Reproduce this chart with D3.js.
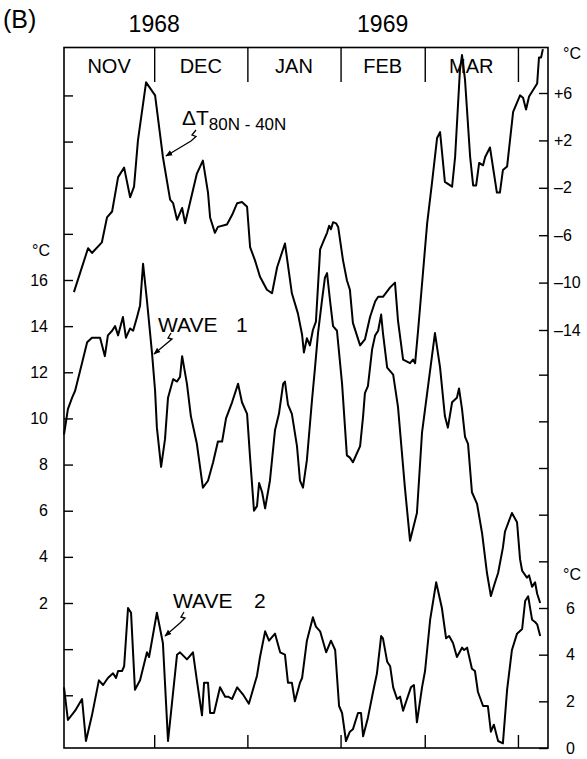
<!DOCTYPE html>
<html>
<head>
<meta charset="utf-8">
<script src="https://cdn.jsdelivr.net/npm/d3@7"></script>
<style>
  body { margin: 0; background: #fff; }
  text { font-family: "Liberation Sans", Arial, sans-serif; fill: #000; }
</style>
</head>
<body>
<svg id="chart" width="587" height="759"></svg>
<script>
// days are counted from 1 Nov 1968
var monthNames = ["NOV", "DEC", "JAN", "FEB", "MAR"];
var yearNames = ["1968", "1969"];
var yearDays = [30, 106];

var dtDays = [3.3, 8.0, 9.3, 12.6, 14.3, 16.0, 18.0, 20.0, 22.0, 23.3, 24.6, 27.3, 30.3, 32.9, 35.3, 36.3, 37.6, 39.3, 40.3, 44.2,
  46.2, 47.9, 48.6, 50.2, 51.2, 54.2, 55.9, 57.6, 59.2, 60.9, 61.9, 63.5, 65.2, 67.5, 69.2, 70.9, 73.5, 75.8, 77.8, 79.2,
  79.8, 80.8, 81.8, 82.8, 83.8, 85.2, 86.5, 87.5, 88.2, 88.8, 89.5, 90.5, 91.2, 92.8, 94.1, 95.1, 96.1, 98.5, 100.1, 101.8,
  103.5, 104.5, 106.1, 108.5, 110.1, 111.1, 112.8, 115.1, 116.1, 116.8, 117.8, 120.8, 122.4, 124.1, 125.1, 126.7, 129.1, 130.1, 131.7, 132.4,
  133.4, 135.1, 136.1, 137.1, 138.1, 139.4, 140.1, 141.7, 144.0, 145.0, 146.0, 147.4, 149.4, 151.7, 152.7, 153.7, 154.7, 157.4, 158.0, 158.7, 159.3];
var dtValues = [-10.8, -7.1, -7.5, -6.6, -4.5, -4.0, -1.1, -0.3, -2.8, -1.9, 2.0, 6.9, 5.8, 0.6, -3.0, -3.3, -4.7, -3.7, -5.0, -0.8,
  0.3, -2.4, -4.5, -5.8, -5.3, -5.1, -4.3, -3.3, -3.2, -3.6, -7.0, -8.1, -9.5, -10.6, -10.9, -8.7, -6.7, -10.9, -12.6, -14.4,
  -15.9, -14.7, -15.3, -14.0, -13.3, -7.2, -6.4, -5.8, -5.2, -5.5, -4.9, -5.0, -5.3, -8.1, -9.8, -10.6, -13.4, -15.3, -14.8, -12.9,
  -11.6, -11.2, -11.2, -10.4, -10.0, -13.2, -16.5, -16.8, -16.5, -16.8, -14.0, -5.0, -1.6, 2.2, 2.7, -1.5, -1.9, 0.6, 7.9, 9.2,
  7.1, 0.6, -1.8, -1.8, 0.1, -0.1, 0.6, 1.4, -2.4, -2.4, -0.5, -0.2, 4.4, 5.8, 5.6, 4.6, 5.7, 6.8, 9.0, 9.0, 9.7];

var wave1Days = [0, 1.3, 2.7, 3.7, 6.0, 7.7, 9.3, 12.0, 13.6, 14.6, 16.0, 17.0, 18.0, 19.6, 20.6, 22.0, 23.0, 24.3, 25.3, 26.3,
  27.6, 29.3, 30.3, 30.9, 32.3, 33.6, 34.6, 36.3, 37.6, 38.6, 39.3, 40.9, 42.2, 44.2, 46.2, 47.9, 49.6, 51.2, 52.6, 53.9,
  55.9, 57.9, 59.2, 60.9, 61.9, 63.2, 64.2, 64.9, 65.9, 66.9, 68.5, 70.2, 71.5, 72.9, 73.5, 74.5, 75.8, 77.5, 78.5, 79.5,
  80.8, 82.5, 83.5, 84.5, 85.8, 86.8, 87.5, 88.5, 89.5, 90.8, 92.5, 94.1, 95.1, 96.1, 98.5, 99.5, 100.1, 101.1, 102.5, 103.5,
  104.5, 105.5, 106.1, 107.5, 109.5, 111.1, 113.4, 115.1, 117.4, 119.1, 120.8, 123.4, 125.1, 126.7, 127.7, 129.1, 130.7, 131.4, 132.4, 133.4,
  134.4, 135.7, 137.4, 139.1, 140.7, 142.0, 143.4, 144.4, 146.0, 146.7, 149.0, 150.7, 151.7, 152.4, 154.0, 154.7, 155.7, 156.7, 157.4, 158.4];
var wave1Values = [9.3, 10.4, 10.9, 11.2, 12.4, 13.3, 13.5, 13.5, 12.7, 13.6, 13.8, 14.0, 13.6, 14.4, 13.5, 13.9, 13.8, 14.4, 14.9, 16.7,
  15.1, 12.8, 11.2, 9.6, 7.9, 9.1, 10.9, 11.7, 11.6, 11.8, 12.7, 11.5, 10.1, 8.9, 7.0, 7.3, 8.1, 9.0, 9.0, 10.0,
  10.7, 11.5, 10.7, 10.2, 8.3, 6.0, 6.2, 7.2, 6.8, 6.1, 7.3, 9.5, 10.2, 11.5, 11.6, 10.6, 10.2, 8.8, 7.3, 7.0,
  8.2, 10.8, 12.2, 13.7, 15.1, 16.1, 16.3, 15.1, 14.0, 13.8, 11.5, 8.4, 8.3, 8.1, 8.8, 10.1, 11.1, 11.4, 13.0, 13.6,
  13.8, 14.5, 13.7, 12.2, 11.9, 10.5, 7.0, 4.7, 5.9, 9.4, 11.1, 13.7, 12.2, 10.1, 9.6, 10.7, 10.9, 11.3, 10.4, 9.2,
  8.9, 6.8, 6.3, 5.0, 3.3, 2.3, 2.9, 3.3, 4.4, 5.1, 5.9, 5.5, 3.9, 3.4, 3.1, 3.2, 2.7, 2.9, 2.4, 2.0];

var wave2Days = [0, 1.3, 3.7, 6.0, 7.3, 9.3, 11.6, 13.0, 14.6, 16.3, 17.3, 18.0, 19.3, 20.0, 21.3, 22.3, 23.6, 25.3, 27.6, 28.3,
  30.9, 32.9, 34.6, 35.9, 37.6, 38.6, 40.9, 42.9, 44.2, 45.9, 46.6, 47.9, 48.6, 49.9, 51.9, 53.6, 54.6, 55.9, 57.6, 59.5,
  61.5, 64.2, 65.2, 66.9, 68.2, 70.2, 71.9, 73.5, 74.5, 75.8, 76.8, 78.5, 79.2, 80.8, 81.8, 82.8, 83.8, 85.2, 87.2, 88.8,
  90.2, 91.5, 92.5, 93.8, 95.1, 96.1, 97.8, 98.8, 99.5, 101.1, 102.8, 104.1, 105.5, 106.1, 107.5, 108.5, 109.5, 110.8, 111.8, 112.8,
  114.1, 115.4, 116.4, 117.4, 119.1, 120.1, 121.8, 123.8, 125.7, 127.1, 128.1, 129.4, 130.7, 132.4, 133.1, 134.1, 135.7, 136.7, 137.7, 139.4,
  141.0, 142.0, 143.0, 144.4, 146.0, 147.4, 149.0, 150.7, 152.4, 153.4, 154.4, 155.7, 156.7, 157.4, 158.4];
var wave2Values = [2.6, 1.2, 1.6, 2.1, 0.3, 1.4, 2.9, 2.7, 3.0, 3.2, 3.0, 3.3, 3.3, 3.5, 6.0, 5.8, 2.5, 2.9, 4.1, 3.9,
  5.8, 4.5, 0.3, 1.9, 4.0, 4.1, 3.8, 4.1, 2.9, 1.4, 2.8, 2.8, 1.5, 1.5, 2.6, 2.2, 2.2, 2.1, 2.6, 2.3,
  1.9, 3.1, 3.9, 5.0, 4.6, 4.9, 4.1, 4.0, 2.8, 2.8, 2.0, 2.8, 3.0, 4.6, 5.1, 5.6, 5.2, 5.0, 4.1, 4.6,
  4.2, 1.8, 1.5, 0.3, 0.7, 0.8, 1.5, 1.5, 0.5, 1.3, 2.4, 3.2, 4.8, 4.7, 3.7, 3.5, 2.6, 2.1, 2.2, 1.6,
  2.1, 2.6, 2.7, 1.1, 2.6, 3.3, 5.5, 7.1, 6.0, 4.7, 4.8, 4.5, 3.9, 4.3, 4.2, 4.3, 3.4, 3.3, 2.4, 1.8,
  1.8, 0.7, 1.0, 0.3, 0.2, 2.5, 4.2, 4.9, 5.1, 6.3, 6.5, 5.5, 5.4, 5.3, 4.8];

var wave1Ticks = d3.range(-2, 25, 2);
var deltaTicks = [6, 2, -2, -6, -10, -14];
var wave2Ticks = d3.range(0, 17, 2);

var svg = d3.select("#chart");
// plot frame edges (window.top is reserved, so no plain "top")
var frameLeft = 64, frameRight = 548, frameTop = 47.5, frameBottom = 748;

var start = Date.UTC(1968, 10, 1);
var toDate = (d) => new Date(start + d * 864e5);

var x = d3.scaleUtc().domain([toDate(0), toDate(161)]).range([frameLeft, frameRight]);
var yWave1 = d3.scaleLinear().domain([2, 16]).range([603, 280]);
var yDelta = d3.scaleLinear().domain([-14, 6]).range([330, 93]);
var yWave2 = d3.scaleLinear().domain([0, 6]).range([748, 608]);

var monthStarts = d3.utcMonth.range(toDate(0), toDate(161));

svg.append("defs").append("marker")
  .attr("id", "arrow")
  .attr("viewBox", "0 0 10 10")
  .attr("refX", 9).attr("refY", 5)
  .attr("markerWidth", 7).attr("markerHeight", 7)
  .attr("markerUnits", "userSpaceOnUse")
  .attr("orient", "auto")
  .append("path").attr("d", "M0,1L10,5L0,9z").attr("fill", "#000");

// frame
svg.append("rect")
  .attr("x", frameLeft).attr("y", frameTop)
  .attr("width", frameRight - frameLeft).attr("height", frameBottom - frameTop)
  .attr("fill", "none").attr("stroke", "#000").attr("stroke-width", 1.6);

function styleAxis(g, size) {
  g.select(".domain").remove();
  g.selectAll("line").attr("stroke", "#000").attr("stroke-width", 1.4);
  g.selectAll("text").attr("font-family", "Liberation Sans, Arial, sans-serif").attr("font-size", size).attr("fill", "#000");
}

// month dividers at the top and ticks at the bottom
svg.append("g")
  .attr("transform", "translate(0," + frameTop + ")")
  .call(d3.axisBottom(x).tickValues(monthStarts.slice(1)).tickSize(34.5).tickFormat(""))
  .call(g => styleAxis(g, 10));
svg.append("g")
  .attr("transform", "translate(0," + frameBottom + ")")
  .call(d3.axisTop(x).tickValues(monthStarts.slice(1)).tickSize(13).tickFormat(""))
  .call(g => styleAxis(g, 10));

var monthEdges = monthStarts.map(d => x(d));
svg.selectAll(".month")
  .data(monthNames)
  .enter().append("text")
  .attr("class", "month")
  .attr("x", (d, i) => (monthEdges[i] + monthEdges[i + 1]) / 2)
  .attr("y", 73)
  .attr("text-anchor", "middle")
  .attr("font-size", 20)
  .text(d => d);

svg.selectAll(".year")
  .data(yearNames)
  .enter().append("text")
  .attr("class", "year")
  .attr("x", (d, i) => x(toDate(yearDays[i])))
  .attr("y", 32)
  .attr("text-anchor", "middle")
  .attr("font-size", 23)
  .text(d => d);

svg.append("text").attr("x", 3).attr("y", 28).attr("font-size", 25).text("(B)");

// left axis, wave 1
svg.append("g")
  .attr("transform", "translate(" + frameLeft + ",0)")
  .call(d3.axisLeft(yWave1).tickValues(wave1Ticks).tickSize(-9).tickPadding(16)
    .tickFormat(d => (d >= 2 && d <= 16) ? d : ""))
  .call(g => styleAxis(g, 16));

// right axis, delta T
svg.append("g")
  .attr("transform", "translate(" + frameRight + ",0)")
  .call(d3.axisRight(yDelta).tickValues(deltaTicks).tickSize(-9).tickPadding(6)
    .tickFormat(d => d > 0 ? "+" + d : "\u2013" + (-d)))
  .call(g => styleAxis(g, 16));

// right axis, wave 2
svg.append("g")
  .attr("transform", "translate(" + frameRight + ",0)")
  .call(d3.axisRight(yWave2).tickValues(wave2Ticks).tickSize(-9).tickPadding(18)
    .tickFormat(d => d <= 6 ? d : ""))
  .call(g => styleAxis(g, 16));

svg.append("text").attr("x", 50).attr("y", 256).attr("text-anchor", "end").attr("font-size", 16).text("°C");
svg.append("text").attr("x", 563).attr("y", 59).attr("font-size", 16).text("°C");
svg.append("text").attr("x", 563).attr("y", 580).attr("font-size", 16).text("°C");

function drawSeries(days, values, yScale) {
  var line = d3.line()
    .x(d => x(toDate(d[0])))
    .y(d => yScale(d[1]));
  svg.append("path")
    .datum(d3.zip(days, values))
    .attr("d", line)
    .attr("fill", "none")
    .attr("stroke", "#000")
    .attr("stroke-width", 2)
    .attr("stroke-linejoin", "round");
}

drawSeries(dtDays, dtValues, yDelta);
drawSeries(wave1Days, wave1Values, yWave1);
drawSeries(wave2Days, wave2Values, yWave2);

// labels with leader arrows
var dtLabel = svg.append("text").attr("x", 182).attr("y", 125);
dtLabel.append("tspan").attr("font-size", 21).text("\u0394T");
dtLabel.append("tspan").attr("font-size", 17).attr("dy", 5).text("80N - 40N");

var w1Label = svg.append("text").attr("y", 332).attr("font-size", 21);
w1Label.append("tspan").attr("x", 158).text("WAVE");
w1Label.append("tspan").attr("x", 236).text("1");

var w2Label = svg.append("text").attr("y", 608).attr("font-size", 21);
w2Label.append("tspan").attr("x", 173).text("WAVE");
w2Label.append("tspan").attr("x", 254).text("2");

var leaders = [
  "M196,130 l-4,5 l4,1.5 l-5,4.5 L166,156",
  "M171,333 l-3,5 l4,1 l-6,5 L154,354",
  "M184,612 l-3,5 l4,1 l-5,5 L165,636"
];
svg.selectAll(".leader")
  .data(leaders)
  .enter().append("path")
  .attr("class", "leader")
  .attr("d", d => d)
  .attr("fill", "none")
  .attr("stroke", "#000")
  .attr("stroke-width", 1.3)
  .attr("marker-end", "url(#arrow)");
</script>
</body>
</html>
